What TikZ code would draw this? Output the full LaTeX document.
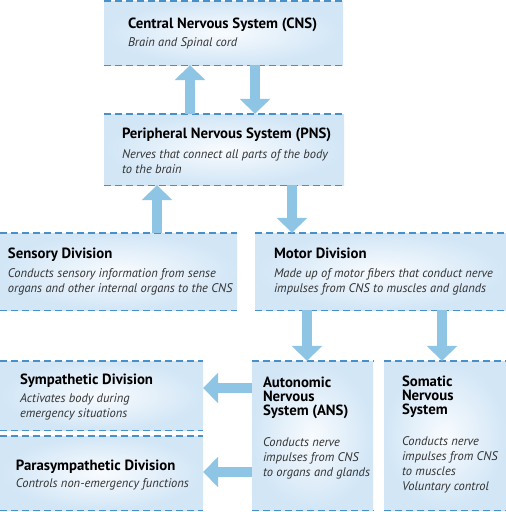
\documentclass[tikz,border=0pt]{standalone}
\usepackage{fontspec}
\setmainfont{PT Sans}
\usetikzlibrary{arrows.meta}
\definecolor{dashblue}{RGB}{74,144,200}
\definecolor{arrowblue}{RGB}{142,197,228}
\definecolor{panelblue}{RGB}{210,230,246}
\definecolor{panelwhite}{RGB}{248,251,254}
\definecolor{descgray}{RGB}{50,50,50}
\newcommand{\hd}[1]{{\fontsize{14.8}{14}\selectfont\bfseries #1}}
\newcommand{\ds}[1]{{\color{descgray}\itshape #1}}
\tikzset{
  panel/.style={rectangle, inner sep=0pt, shading=radial, inner color=panelwhite, outer color=panelblue},
  rule/.style={dashblue, line width=1.4pt, dash pattern=on 7pt off 4pt},
  bigarrow/.style={arrowblue, line width=10pt, -{Triangle[width=30pt,length=15pt]}},
  boxtext/.style={anchor=west, align=left, inner sep=0pt, font=\fontsize{12.5}{15}\selectfont}
}
\begin{document}
\begin{tikzpicture}[x=1pt,y=-1pt]
      \useasboundingbox (0,0) rectangle (506,512);
      % panels
      \node[panel, minimum width=239pt, minimum height=64pt] (cns) at (223.5,33) {};
      \node[panel, minimum width=240pt, minimum height=71pt] (pns) at (224,149.5) {};
      \node[panel, minimum width=237pt, minimum height=77pt] (sens) at (118.5,271.5) {};
      \node[panel, minimum width=251pt, minimum height=77pt] (mot) at (380.5,271.5) {};
      \node[panel, minimum width=203pt, minimum height=69pt] (symp) at (101.5,395.5) {};
      \node[panel, minimum width=203pt, minimum height=74pt] (para) at (101.5,473) {};
      \node[panel, minimum width=121pt, minimum height=149pt] (ans) at (312.5,435.5) {};
      \node[panel, minimum width=122pt, minimum height=149pt] (som) at (445,435.5) {};
      \foreach \b in {cns,pns,sens,mot,symp,para,ans,som}
        \draw[rule] (\b.north west) -- (\b.north east) (\b.south west) -- (\b.south east);
      % texts
      \node[boxtext] (cnstxt) at ([xshift=24pt]cns.west) {\hd{Central Nervous System (CNS)}\\[3pt] \ds{Brain and Spinal cord}};
      \node[boxtext] (pnstxt) at ([xshift=18pt,yshift=-1pt]pns.west) {\hd{Peripheral Nervous System (PNS)}\\[5pt] \ds{Nerves that connect all parts of the body}\\ \ds{to the brain}};
      \node[boxtext] (senstxt) at ([xshift=8pt]sens.west) {\hd{Sensory Division}\\[4pt] \ds{Conducts sensory information from sense}\\ \ds{organs and other internal organs to the CNS}};
      \node[boxtext] (mottxt) at ([xshift=19pt]mot.west) {\hd{Motor Division}\\[4pt] \ds{Made up of motor fibers that conduct nerve}\\ \ds{impulses from CNS to muscles and glands}};
      \node[boxtext] (symptxt) at ([xshift=20pt,yshift=-2pt]symp.west) {\hd{Sympathetic Division}\\[3pt] \ds{Activates body during}\\ \ds{emergency situations}};
      \node[boxtext] (paratxt) at ([xshift=16pt,yshift=-2pt]para.west) {\hd{Parasympathetic Division}\\[2pt] \ds{Controls non-emergency functions}};
      \node[boxtext] (anstxt) at ([xshift=11pt,yshift=7pt]ans.west) {\hd{Autonomic}\\[-1pt] \hd{Nervous}\\[-1pt] \hd{System (ANS)}\\[16pt] \ds{Conducts nerve}\\ \ds{impulses from CNS}\\ \ds{to organs and glands}};
      \node[boxtext] (somtxt) at ([xshift=18pt,yshift=1pt]som.west) {\hd{Somatic}\\[-1pt] \hd{Nervous}\\[-1pt] \hd{System}\\[16pt] \ds{Conducts nerve}\\ \ds{impulses from CNS}\\ \ds{to muscles}\\ \ds{Voluntary control}};
      % arrows
      \draw[bigarrow] ([xshift=-34pt]pns.north) -- ([xshift=-33.5pt]cns.south);
      \draw[bigarrow] ([xshift=31.5pt]cns.south) -- ([xshift=31pt]pns.north);
      \draw[bigarrow] ([xshift=38.5pt]sens.north) -- ([xshift=-67pt]pns.south);
      \draw[bigarrow] ([xshift=68pt]pns.south) -- ([xshift=-88.5pt]mot.north);
      \draw[bigarrow] ([xshift=-73.5pt]mot.south) -- ([xshift=-5.5pt]ans.north);
      \draw[bigarrow] ([xshift=61.5pt]mot.south) -- ([xshift=-3pt]som.north);
      \draw[bigarrow] ([yshift=47.5pt]ans.west) -- ([yshift=7.5pt]symp.east);
      \draw[bigarrow] ([yshift=-36.5pt]ans.west) -- ([yshift=1pt]para.east);
\end{tikzpicture}
\end{document}
